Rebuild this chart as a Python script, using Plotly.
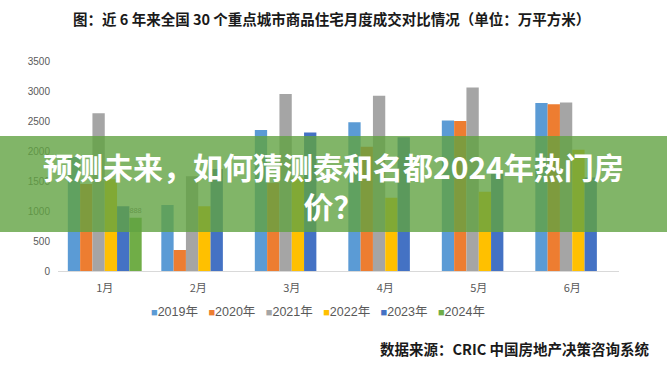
import plotly.graph_objects as go

months = ["1月", "2月", "3月", "4月", "5月", "6月"]
series_names = ["2019年", "2020年", "2021年", "2022年", "2023年", "2024年"]
v2019 = [1900, 1100, 2350, 2480, 2510, 2800]
v2020 = [1450, 350, 1470, 2070, 2500, 2780]
v2021 = [2630, 1580, 2950, 2920, 3060, 2810]
v2022 = [1530, 1080, 1560, 1220, 1320, 2020]
v2023 = [1080, 1700, 2310, 2230, 1620, 1560]
v2024 = [888, None, None, None, None, None]
colors = ["#5B9BD5", "#ED7D31", "#A5A5A5", "#FFC000", "#4472C4", "#70AD47"]

title = "图：近 6 年来全国 30 个重点城市商品住宅月度成交对比情况（单位：万平方米）"
source = "数据来源：CRIC 中国房地产决策咨询系统"
banner1 = "预测未来，如何猜测泰和名都2024年热门房"
banner2 = "价？"

W, H = 667, 369
L, R, T, B = 58, 48, 61, 98
pw, ph = W - L - R, H - T - B

def px(x):
    return (x - L) / pw

def py(y):
    return (H - B - y) / ph

fig = go.Figure()
all_vals = [v2019, v2020, v2021, v2022, v2023, v2024]
for name, vals, c in zip(series_names, all_vals, colors):
    kw = {}
    if name == "2024年":
        kw = dict(text=[str(v) if v is not None else "" for v in vals],
                  textposition="outside",
                  textfont=dict(size=11, color="#6b6b6b",
                                family="Liberation Sans Narrow, Liberation Sans"),
                  cliponaxis=False)
    fig.add_trace(go.Bar(x=months, y=vals, name=name, marker_color=c,
                         marker_line_width=0, **kw))

# legend drawn as a text line built from the series names and colours
legend_text = "&nbsp;&nbsp;&nbsp;".join(
    "<span style='color:%s;font-size:11px'>■</span>%s" % (c, n)
    for n, c in zip(series_names, colors)
)

fig.update_layout(
    width=W, height=H,
    margin=dict(l=L, r=R, t=T, b=B, pad=0),
    paper_bgcolor="white", plot_bgcolor="white",
    barmode="group", bargap=0.21, bargroupgap=0,
    font=dict(family="Noto Sans CJK SC", color="#595959"),
    showlegend=False,
    xaxis=dict(showgrid=False, showline=True, linecolor="#D9D9D9", linewidth=1,
               ticks="", tickfont=dict(size=11, color="#595959"),
               ticklabelstandoff=7, fixedrange=True),
    yaxis=dict(range=[0, 3500], dtick=500, showgrid=False, zeroline=False,
               showline=False, ticks="", tickfont=dict(size=10, color="#595959",
               family="Liberation Sans Narrow, Liberation Sans"), ticklabelstandoff=7),
    shapes=[dict(type="rect", xref="paper", yref="paper",
                 x0=px(0), x1=px(W), y0=py(232), y1=py(136),
                 fillcolor="rgba(98,162,66,0.8)", line_width=0, layer="above")],
    annotations=[
        dict(text="<b>" + title + "</b>", xref="paper", yref="paper",
             x=px(331), y=py(18), xanchor="center", yanchor="middle", showarrow=False,
             font=dict(size=14.5, color="#1a1a1a", family="Noto Sans CJK SC")),
        dict(text="<b>" + source + "</b>", xref="paper", yref="paper",
             x=px(651), y=py(348), xanchor="right", yanchor="middle", showarrow=False,
             font=dict(size=14.5, color="#1a1a1a", family="Noto Sans CJK SC")),
        dict(text=legend_text, xref="paper", yref="paper",
             x=px(318), y=py(312), xanchor="center", yanchor="middle", showarrow=False,
             font=dict(size=12.5, color="#595959",
                       family="Liberation Sans, Noto Sans CJK SC")),
        dict(text="<b>" + banner1 + "<br>" + banner2 + "</b>", xref="paper", yref="paper",
             x=px(333), y=py(185), xanchor="center", yanchor="middle", showarrow=False,
             align="center",
             font=dict(size=30, color="white", family="Noto Sans CJK SC")),
    ],
)

fig.write_html("out.html", config={"displayModeBar": False},
               post_script="document.body.style.margin='0';")
